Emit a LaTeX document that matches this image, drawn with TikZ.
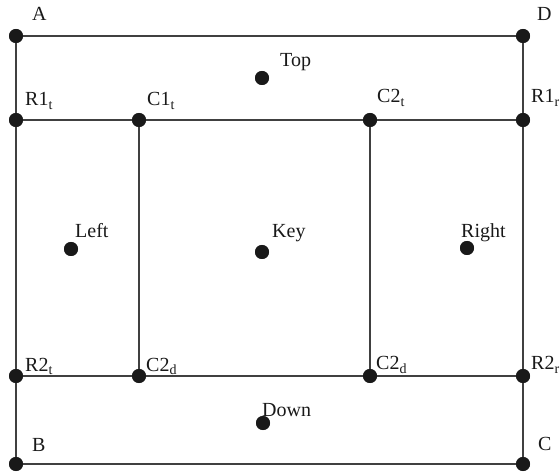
\documentclass[tikz,border=0pt]{standalone}
\usepackage{fontspec}
\setmainfont{Liberation Serif}
\newcommand\mysb[1]{\raisebox{-0.35ex}{\fontsize{14}{16}\selectfont #1}}
\begin{document}
\begin{tikzpicture}[x=1pt,y=-1pt,
  dot/.style={circle,fill=black!90,inner sep=0pt,minimum size=14pt},
  edge/.style={draw=black!75,line width=1.2pt},
  lbl/.style={anchor=base west,inner sep=0pt,font=\fontsize{20}{24}\selectfont,text=black!90}]
\useasboundingbox (0,0) rectangle (560,473);
% dots
\node[dot] (A) at (16,36) {};
\node[dot] (D) at (523,36) {};
\node[dot] (R1t) at (16,120) {};
\node[dot] (C1t) at (139,120) {};
\node[dot] (C2t) at (370,120) {};
\node[dot] (R1r) at (523,120) {};
\node[dot] (R2t) at (16,376) {};
\node[dot] (C2dl) at (139,376) {};
\node[dot] (C2dr) at (370,376) {};
\node[dot] (R2r) at (523,376) {};
\node[dot] (B) at (16,464) {};
\node[dot] (C) at (523,464) {};
\node[dot] (Top) at (262,78) {};
\node[dot] (Left) at (71,249) {};
\node[dot] (Key) at (262,252) {};
\node[dot] (Right) at (467,248) {};
\node[dot] (Down) at (263,423) {};
% lines
\draw[edge] (A.center) -- (D.center);
\draw[edge] (D.center) -- (R1r.center) -- (R2r.center) -- (C.center);
\draw[edge] (C.center) -- (B.center);
\draw[edge] (B.center) -- (R2t.center) -- (R1t.center) -- (A.center);
\draw[edge] (R1t.center) -- (C1t.center) -- (C2t.center) -- (R1r.center);
\draw[edge] (R2t.center) -- (C2dl.center) -- (C2dr.center) -- (R2r.center);
\draw[edge] (C1t.center) -- (C2dl.center);
\draw[edge] (C2t.center) -- (C2dr.center);
\foreach \n in {A,D,R1t,C1t,C2t,R1r,R2t,C2dl,C2dr,R2r,B,C,Top,Left,Key,Right,Down} \node[dot] at (\n) {};
% labels
\node[lbl] (lA) at (32,21) {A};
\node[lbl] (lD) at (537,21) {D};
\node[lbl] (lR1t) at (25,106) {R1\mysb{t}};
\node[lbl] (lC1t) at (147,106) {C1\mysb{t}};
\node[lbl] (lC2t) at (377,103) {C2\mysb{t}};
\node[lbl] (lR1r) at (531,103) {R1\mysb{r}};
\node[lbl] (lTop) at (280,67) {Top};
\node[lbl] (lLeft) at (75,238) {Left};
\node[lbl] (lKey) at (272,238) {Key};
\node[lbl] (lRight) at (461,238) {Right};
\node[lbl] (lR2t) at (25,371) {R2\mysb{t}};
\node[lbl] (lC2dl) at (146,371) {C2\mysb{d}};
\node[lbl] (lC2dr) at (376,370) {C2\mysb{d}};
\node[lbl] (lR2r) at (531,370) {R2\mysb{r}};
\node[lbl] (lDown) at (262,416) {Down};
\node[lbl] (lB) at (32,451) {B};
\node[lbl] (lC) at (538,450) {C};
\end{tikzpicture}
\end{document}
